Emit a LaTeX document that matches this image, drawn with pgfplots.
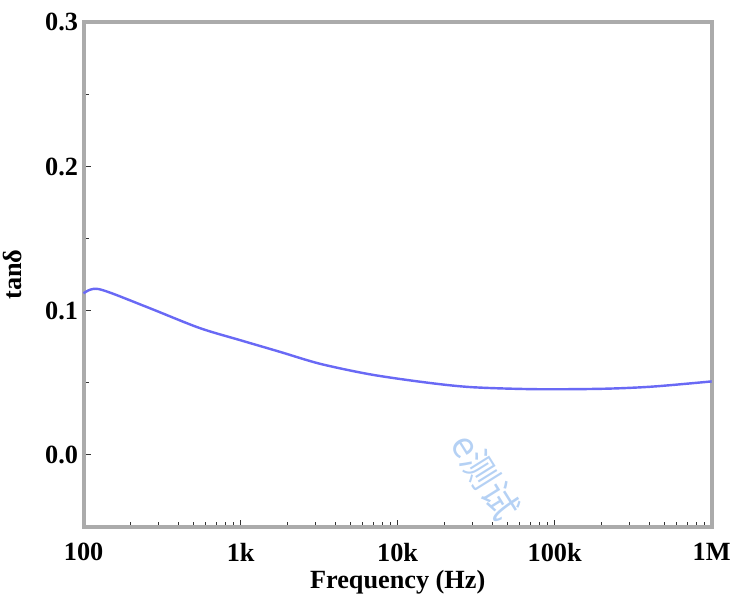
\documentclass[border=0pt]{standalone}
\usepackage{pgfplots}
\pgfplotsset{compat=1.18}
\usepackage{fontspec}
\setmainfont{Liberation Serif}
\newfontfamily\cjk{Noto Sans CJK SC}
\definecolor{curve}{RGB}{105,105,245}
\definecolor{wm}{RGB}{150,190,240}
\begin{document}
\begin{tikzpicture}
\begin{axis}[
  width=622pt, height=500pt, scale only axis,
  xmode=log, xmin=100, xmax=1000000, ymin=-0.05, ymax=0.3,
  xtick={100,1000,10000,100000,1000000},
  xticklabels={100,1k,10k,100k,1M},
  minor xtick={200,300,400,500,600,700,800,900,2000,3000,4000,5000,6000,7000,8000,9000,20000,30000,40000,50000,60000,70000,80000,90000,200000,300000,400000,500000,600000,700000,800000,900000},
  ytick={0,0.1,0.2,0.3},
  yticklabels={0.0,0.1,0.2,0.3},
  minor ytick={-0.05,0.05,0.15,0.25},
  xtick pos=bottom, ytick pos=left,
  tick align=inside,
  axis line style={draw=black!33, line width=4pt},
  major tick length=7pt, minor tick length=5pt,
  every tick/.style={black!80, line width=1pt},
  ticklabel style={font=\fontsize{26}{30}\selectfont\bfseries},
  yticklabel style={xshift=-2pt},
  xlabel={Frequency (Hz)}, ylabel={tanδ},
  label style={font=\fontsize{26}{30}\selectfont\bfseries},
  xticklabel style={yshift=-12pt},
  xlabel style={yshift=-2pt},
  ylabel style={yshift=16pt},
  clip=false,
]
\addplot[curve, line width=2.4pt, smooth] coordinates {
(100,0.1120) (125,0.1150) (247,0.1030) (542,0.0882) (1000,0.0795)
(1780,0.0715) (3210,0.0632) (6750,0.0558) (15300,0.0502) (29700,0.0470)
(75700,0.0456) (203000,0.0459) (420000,0.0474) (1000000,0.0510)
};
\node[rotate=-58, text=wm, opacity=0.7, font=\cjk\fontsize{36}{40}\selectfont] at (rel axis cs:0.64,0.1) {e测试};
\path (rel axis cs:0,1) ++(0pt,22pt) coordinate (topext);
\path (topext) -- (topext);
\end{axis}
\end{tikzpicture}
\end{document}
